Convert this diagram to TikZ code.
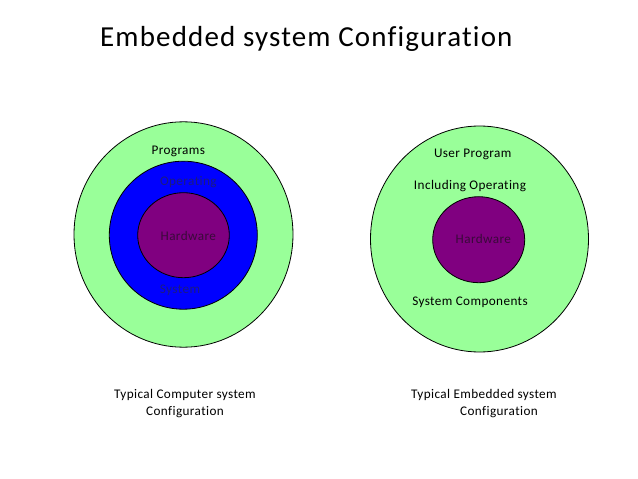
\documentclass[tikz,border=0pt]{standalone}
\usepackage{fontspec}
\setmainfont{Carlito}[Ligatures=NoCommon]
\newfontfamily\titlefont{Carlito}[Ligatures=NoCommon,LetterSpace=4]
\newfontfamily\lblfont{Carlito}[Ligatures=NoCommon,LetterSpace=3]
\definecolor{lgreen}{HTML}{99FF99}
\definecolor{pblue}{HTML}{0000FF}
\definecolor{ppurple}{HTML}{800080}
\definecolor{ontblue}{HTML}{1C1C80}
\definecolor{onpurple}{HTML}{3A0A3A}
\begin{document}
\begin{tikzpicture}[x=1pt,y=-1pt,
  ring/.style={draw=black, line width=0.8pt},
  lbl/.style={font=\lblfont\fontsize{13.2}{15}\selectfont, inner sep=0pt},
  captext/.style={font=\lblfont\fontsize{13.2}{17}\selectfont, align=center, inner sep=0pt}]
\useasboundingbox (0,0) rectangle (638,479);
\fill[white] (0,0) rectangle (638,479);
% title
\node[font=\titlefont\fontsize{29}{32}\selectfont, anchor=west, inner sep=0pt] (title) at (100,39) {Embedded system Configuration};
% left diagram
\draw[ring, fill=lgreen] (183.5,234.5) ellipse [x radius=109.5, y radius=112.7];
\draw[ring, fill=pblue] (183.3,235.2) ellipse [x radius=74, y radius=74];
\draw[ring, fill=ppurple] (183.5,235.2) ellipse [x radius=45.8, y radius=42.5];
\node[lbl] (prog) at (178.3,151) {Programs};
\node[lbl, text=ontblue] (opl) at (188.3,182) {Operating};
\node[lbl, text=onpurple] (hwl) at (188.3,236) {Hardware};
\node[lbl, text=ontblue] (sysl) at (180,290.7) {System};
% right diagram
\draw[ring, fill=lgreen] (479.5,239) ellipse [x radius=109, y radius=113];
\draw[ring, fill=ppurple] (478.7,239.7) ellipse [x radius=46, y radius=43];
\node[lbl] (up) at (472.7,154.3) {User Program};
\node[lbl] (inc) at (470,185.7) {Including Operating};
\node[lbl, text=onpurple] (hwr) at (483.3,239.3) {Hardware};
\node[lbl] (sc) at (470,302) {System Components};
% captions
\node[captext] (capl) at (185,404) {Typical Computer system\\Configuration};
\node[captext] (capr) at (484,404) {Typical Embedded system\\\hspace*{30pt}Configuration};
\end{tikzpicture}
\end{document}
